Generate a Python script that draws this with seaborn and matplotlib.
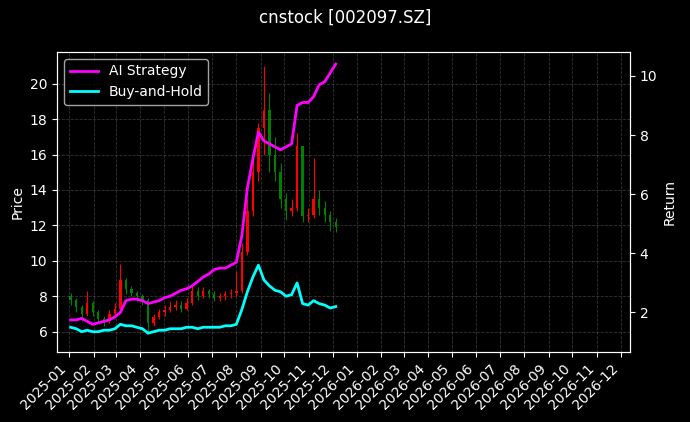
import pandas as pd
import numpy as np
import matplotlib
matplotlib.use("Agg")
import matplotlib.pyplot as plt
import matplotlib.dates as mdates
import seaborn as sns

# --- data (weekly) ---
DATES = pd.date_range("2025-01-03", "2025-12-05", freq="W-FRI")
CLOSE = [7.8, 7.4, 7.0, 7.6, 7.1, 6.7, 6.6, 7.0, 7.3, 8.9, 8.4, 8.2, 8.0,
         7.8, 6.5, 6.8, 7.1, 7.2, 7.4, 7.5, 7.3, 7.6, 8.3, 8.0, 8.3, 8.1,
         7.9, 8.0, 8.1, 8.2, 8.3, 10.5, 12.8, 15.0, 17.5, 18.5, 16.0, 15.0, 13.5,
         12.8, 13.0, 16.5, 12.5, 12.6, 13.5, 13.0, 12.6, 12.2, 11.9]
HIGH = [8.2, 7.9, 7.5, 8.3, 7.7, 7.2, 6.9, 7.2, 7.6, 9.8, 9.0, 8.6, 8.3,
        8.1, 7.9, 7.0, 7.3, 7.5, 7.7, 7.8, 7.7, 7.9, 8.6, 8.5, 8.5, 8.4,
        8.3, 8.2, 8.3, 8.4, 9.4, 11.0, 13.5, 15.8, 17.8, 21.0, 19.5, 17.0, 15.5,
        13.8, 13.5, 17.2, 16.0, 13.0, 15.8, 14.0, 13.4, 12.8, 12.4]
LOW = [7.5, 7.1, 6.6, 6.9, 6.9, 6.5, 6.3, 6.5, 6.9, 7.2, 8.1, 8.0, 7.7,
       7.5, 6.0, 6.3, 6.7, 6.9, 7.1, 7.2, 7.1, 7.2, 7.5, 7.8, 7.9, 7.9,
       7.7, 7.7, 7.8, 7.9, 8.0, 8.2, 10.3, 12.5, 14.5, 16.0, 15.0, 14.5, 13.0,
       12.3, 12.5, 12.8, 12.2, 12.2, 12.4, 12.6, 12.2, 11.7, 11.6]
AI_RET = [1.75, 1.75, 1.8, 1.7, 1.6, 1.65, 1.7, 1.75, 1.85, 2.0, 2.4, 2.45, 2.45,
          2.4, 2.3, 2.35, 2.4, 2.5, 2.55, 2.65, 2.75, 2.8, 2.9, 3.05, 3.2, 3.3,
          3.45, 3.5, 3.5, 3.6, 3.7, 4.6, 6.2, 7.2, 8.1, 7.8, 7.7, 7.6, 7.5,
          7.6, 7.7, 9.0, 9.1, 9.1, 9.3, 9.7, 9.8, 10.1, 10.4]
BH_RET = [1.5, 1.45, 1.35, 1.4, 1.35, 1.35, 1.4, 1.4, 1.45, 1.6, 1.55, 1.55, 1.5,
          1.45, 1.3, 1.35, 1.4, 1.4, 1.45, 1.45, 1.45, 1.5, 1.5, 1.45, 1.5, 1.5,
          1.5, 1.5, 1.55, 1.55, 1.6, 2.1, 2.7, 3.2, 3.6, 3.1, 2.9, 2.75, 2.7,
          2.55, 2.6, 3.0, 2.3, 2.25, 2.4, 2.3, 2.25, 2.15, 2.2]

OPEN = [8.0] + CLOSE[:-1]

df = pd.DataFrame({"date": DATES, "open": OPEN, "close": CLOSE,
                   "high": HIGH, "low": LOW, "ai": AI_RET, "bh": BH_RET})

plt.style.use("dark_background")
fig, ax = plt.subplots(figsize=(6.9, 4.22), dpi=100)

# candles: red up, green down
colors = np.where(df["close"] >= df["open"], "red", "green")
x = mdates.date2num(df["date"])
ax.vlines(x, df["low"], df["high"], colors=colors, linewidth=0.8)
ax.bar(x, df["close"] - df["open"], bottom=df["open"], width=3.0, color=colors)
ax.set_ylabel("Price")
ax.set_ylim(4.87, 21.8)
ax.grid(True, linestyle="--", color="gray", alpha=0.4, linewidth=0.6)

ax2 = ax.twinx()
sns.lineplot(data=df, x="date", y="ai", ax=ax2, color="magenta", linewidth=2, label="AI Strategy")
sns.lineplot(data=df, x="date", y="bh", ax=ax2, color="cyan", linewidth=2, label="Buy-and-Hold")
ax2.set_ylabel("Return")
ax2.set_ylim(0.68, 10.81)
ax2.set_yticks([2, 4, 6, 8, 10])
ax2.legend(loc="upper left", fontsize=10)

ax.set_xlim(mdates.datestr2num("2024-12-17"), mdates.datestr2num("2026-12-13"))
ax.xaxis.set_major_locator(mdates.MonthLocator())
ax.xaxis.set_major_formatter(mdates.DateFormatter("%Y-%m"))
ax2.set_xlabel("")
plt.setp(ax.get_xticklabels(), rotation=45, ha="right")

fig.suptitle("cnstock [002097.SZ]")
fig.subplots_adjust(left=0.083, right=0.913, top=0.877, bottom=0.167)
fig.savefig("out.png")
